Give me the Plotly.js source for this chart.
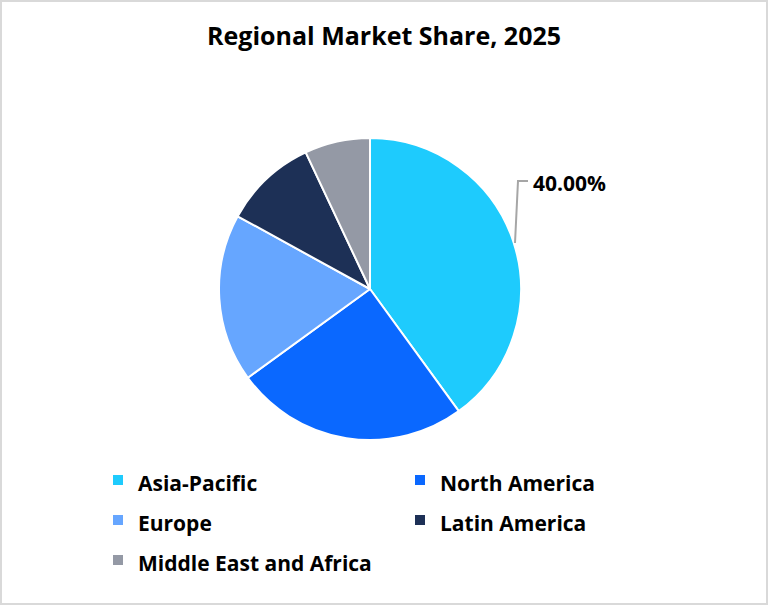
<!DOCTYPE html>
<html>
<head>
<meta charset="utf-8">
<script src="https://cdn.plot.ly/plotly-3.0.1.min.js"></script>
<style>
  html, body { margin: 0; padding: 0; background: #fff; }
  #frame { position: absolute; left: 0; top: 0; width: 768px; height: 605px; box-sizing: border-box; border: 2px solid #d9d9d9; }
  #chart { position: absolute; left: 2px; top: 2px; width: 764px; height: 601px; }
</style>
</head>
<body>
<div id="frame"></div>
<div id="chart"></div>
<script>
const regions = ["Asia-Pacific", "North America", "Europe", "Latin America", "Middle East and Africa"];
const shares = [40, 25, 18, 10, 7];
const colors = ["#1ECBFD", "#0A68FF", "#66A6FF", "#1D3056", "#9499A5"];
const chartTitle = "Regional Market Share, 2025";

const W = 764, H = 601;
const px = x => (x - 2) / W;
const py = y => 1 - (y - 2) / H;

const total = shares.reduce((a, b) => a + b, 0);
const topLabel = (shares[0] / total * 100).toFixed(2) + "%";

const FONT = "'Open Sans', 'Noto Sans', sans-serif";

const trace = {
  type: "pie",
  labels: regions.map(r => '<span style="font-size:21px">' + r + '</span>'),
  values: shares,
  sort: false,
  direction: "clockwise",
  rotation: 0,
  marker: { colors: colors, line: { color: "#ffffff", width: 2 } },
  textinfo: "none",
  hoverinfo: "label+percent",
  domain: { x: [px(219), px(521)], y: [py(440), py(138)] }
};

const layout = {
  width: W, height: H,
  margin: { l: 0, r: 0, t: 0, b: 0 },
  paper_bgcolor: "#ffffff",
  font: { family: FONT, color: "#000" },
  title: {
    text: "<b>" + chartTitle + "</b>",
    font: { family: FONT, size: 25, color: "#000" },
    x: 0.5, xanchor: "center", xref: "paper",
    y: py(36), yanchor: "middle", yref: "container"
  },
  showlegend: true,
  legend: {
    orientation: "h",
    x: px(98), xanchor: "left",
    y: py(455), yanchor: "top",
    entrywidth: 257, entrywidthmode: "pixels",
    font: { family: FONT, size: 28.46, color: "#000", weight: "bold" },
    bgcolor: "rgba(0,0,0,0)",
    traceorder: "normal"
  },
  annotations: [{
    text: "<b>" + topLabel + "</b>",
    xref: "paper", yref: "paper",
    x: px(531), y: py(183), xanchor: "left", yanchor: "middle",
    showarrow: false,
    font: { family: FONT, size: 21, color: "#000" }
  }],
  shapes: [{
    type: "path", xref: "paper", yref: "paper",
    path: "M" + px(515) + "," + py(243) + " L" + px(518) + "," + py(181) + " L" + px(528) + "," + py(181),
    line: { color: "#a6a6a6", width: 2 }
  }]
};

Plotly.newPlot("chart", [trace], layout, { displayModeBar: false, staticPlot: true });
</script>
</body>
</html>
